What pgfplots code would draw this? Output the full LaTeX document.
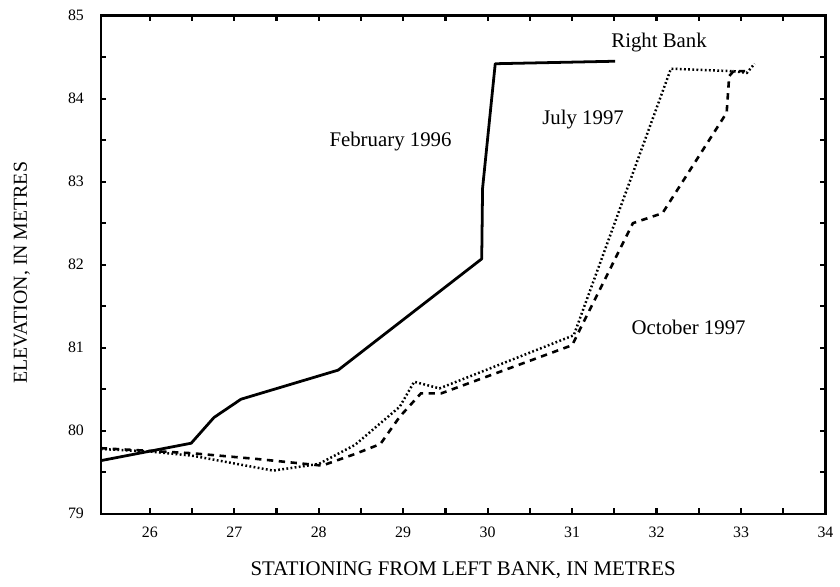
\documentclass[border=0pt]{standalone}
\usepackage{fontspec}
\setmainfont{Liberation Serif}
\usepackage{pgfplots}
\pgfplotsset{compat=1.18}
\usetikzlibrary{calc}
\begin{document}
\begin{tikzpicture}
\begin{axis}[
  name=ax,
  width=365.5pt, height=251.3pt, scale only axis,
  xmin=25.42, xmax=34, ymin=79, ymax=85,
  xtick={26,27,...,34}, ytick={79,80,...,85},
  minor xtick={26.5,27.5,...,33.5}, minor ytick={79.5,80.5,...,84.5},
  tick align=inside, xtick pos=both, ytick pos=both,
  major tick length=2.8pt, minor tick length=2.8pt,
  axis line style={line width=1.2pt},
  every tick/.style={line width=1.1pt, black},
  tick label style={font=\fontsize{8}{9}\selectfont},
  /pgf/number format/assume math mode=true,
  yticklabel style={xshift=-5pt},
  xticklabel style={yshift=-3pt},
  xlabel={STATIONING FROM LEFT BANK, IN METRES},
  ylabel={ELEVATION, IN METRES},
  xlabel style={at={(axis description cs:0.5,-0.113)}, anchor=center, font=\fontsize{10.5}{12}\selectfont},
  ylabel style={at={(axis description cs:-0.109,0.484)}, anchor=center, font=\fontsize{10}{12}\selectfont},
]
% February 1996
\addplot[black, line width=1.4pt, line join=round] coordinates {
(25.42,79.64) (26.49,79.85) (26.76,80.16) (27.08,80.38) (28.23,80.73)
(29.93,82.07) (29.94,82.92) (30.09,84.42) (31.51,84.45)
};
% July 1997
\addplot[black, line width=1.25pt, dash pattern=on 0.9pt off 1.2pt] coordinates {
(25.42,79.78) (26.0,79.75) (26.5,79.70) (27.46,79.52) (28.0,79.60)
(28.43,79.83) (28.96,80.29) (29.13,80.59) (29.43,80.51) (31.02,81.15)
(32.17,84.36) (32.91,84.33) (33.07,84.31) (33.16,84.42)
};
% October 1997
\addplot[black, line width=1.3pt, dash pattern=on 3.2pt off 2.8pt] coordinates {
(25.42,79.79) (26.49,79.73) (27.27,79.66) (28.04,79.58) (28.43,79.72)
(28.73,79.84) (28.96,80.17) (29.21,80.45) (29.45,80.45) (31.0,81.03)
(31.72,82.5) (32.07,82.62) (32.83,83.83) (32.86,84.27) (32.91,84.33) (33.05,84.33)
};
\node[font=\fontsize{10.5}{12}\selectfont] at (axis cs:32.03,84.68) {Right Bank};
\node[font=\fontsize{10.5}{12}\selectfont] at (axis cs:28.85,83.48) {February 1996};
\node[font=\fontsize{10.5}{12}\selectfont] at (axis cs:31.13,83.75) {July 1997};
\node[font=\fontsize{10.5}{12}\selectfont] at (axis cs:32.38,81.25) {October 1997};
\end{axis}
\path ($(ax.south west)+(-50.85pt,-36.85pt)$) rectangle ($(ax.north east)+(3.5pt,7.85pt)$);
\end{tikzpicture}
\end{document}
